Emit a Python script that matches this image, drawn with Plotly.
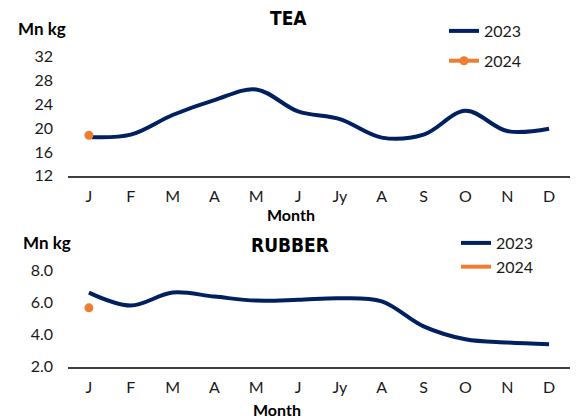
import plotly.graph_objects as go

# Monthly production, million kg
months = ["J", "F", "M", "A", "M", "J", "Jy", "A", "S", "O", "N", "D"]
tea_2023 = [18.5, 18.9, 22.2, 24.7, 26.5, 22.8, 21.5, 18.4, 18.9, 22.9, 19.5, 19.9]
tea_2024 = [18.8]
rubber_2023 = [6.6, 5.8, 6.6, 6.35, 6.1, 6.15, 6.25, 6.05, 4.5, 3.7, 3.5, 3.4]
rubber_2024 = [5.65]

tea_ticks = [12, 16, 20, 24, 28, 32]
rubber_ticks = [2.0, 4.0, 6.0, 8.0]

NAVY = "#002060"
ORANGE = "#ED7D31"
TXT = "#1a1a1a"
FONT = "Lato, DejaVu Sans, sans-serif"
BOLD_NARROW = "Liberation Sans Narrow, Arial Narrow, DejaVu Sans Condensed, sans-serif"

W, H = 577, 418
x = list(range(len(months)))

fig = go.Figure()

fig.add_trace(go.Scatter(
    x=x, y=tea_2023, name="2023", mode="lines",
    line=dict(color=NAVY, width=4, shape="spline", smoothing=1),
    xaxis="x", yaxis="y", legend="legend", legendgroup="t23"))
fig.add_trace(go.Scatter(
    x=x[:len(tea_2024)], y=tea_2024, name="2024", mode="lines+markers",
    line=dict(color=ORANGE, width=4), marker=dict(color=ORANGE, size=9),
    xaxis="x", yaxis="y", legend="legend", legendgroup="t24"))

fig.add_trace(go.Scatter(
    x=x, y=rubber_2023, name="2023", mode="lines",
    line=dict(color=NAVY, width=4, shape="spline", smoothing=1),
    xaxis="x2", yaxis="y2", legend="legend2", legendgroup="r23"))
fig.add_trace(go.Scatter(
    x=x[:len(rubber_2024)], y=rubber_2024, name="2024", mode="lines",
    line=dict(color=ORANGE, width=4),
    xaxis="x2", yaxis="y2", legend="legend2", legendgroup="r24"))
fig.add_trace(go.Scatter(
    x=x[:len(rubber_2024)], y=rubber_2024, name="2024", mode="markers",
    marker=dict(color=ORANGE, size=9), showlegend=False,
    xaxis="x2", yaxis="y2"))


def py(p):
    return 1 - p / H


def px(p):
    return p / W


xdom = [px(68), px(570)]
xcommon = dict(
    range=[-0.5, len(months) - 0.5], tickmode="array", tickvals=x, ticktext=months,
    showgrid=False, zeroline=False, showline=True, linecolor="#404040", linewidth=1.5,
    ticks="", ticklabelstandoff=5, tickfont=dict(family=FONT, size=16, color=TXT),
    automargin=False, fixedrange=True,
)
ycommon = dict(
    showgrid=False, zeroline=False, showline=False, ticks="", ticklabelstandoff=14,
    tickfont=dict(family=FONT, size=16, color=TXT), automargin=False,
)

fig.update_layout(
    width=W, height=H, margin=dict(l=0, r=0, t=0, b=0, pad=0, autoexpand=False),
    paper_bgcolor="white", plot_bgcolor="white",
    xaxis=dict(domain=xdom, anchor="y", **xcommon),
    yaxis=dict(domain=[py(175.7), py(56.7)], range=[12, 32], anchor="x",
               tickvals=tea_ticks, ticktext=[str(v) for v in tea_ticks], **ycommon),
    xaxis2=dict(domain=xdom, anchor="y2", **xcommon),
    yaxis2=dict(domain=[py(366.7), py(270)], range=[2, 8], anchor="x2",
                tickvals=rubber_ticks, ticktext=[f"{v:.1f}" for v in rubber_ticks], **ycommon),
    legend=dict(x=px(444), y=py(14), xanchor="left", yanchor="top",
                font=dict(family=FONT, size=16, color=TXT), bgcolor="rgba(0,0,0,0)",
                tracegroupgap=6, traceorder="grouped", itemwidth=30),
    legend2=dict(x=px(456), y=py(226), xanchor="left", yanchor="top",
                 font=dict(family=FONT, size=16, color=TXT), bgcolor="rgba(0,0,0,0)",
                 tracegroupgap=0, traceorder="grouped", itemwidth=30),
    showlegend=True,
)

annots = [
    dict(text="<b>TEA</b>", x=px(288), y=py(18), font=dict(family=BOLD_NARROW, size=19, color="#000")),
    dict(text="<b>RUBBER</b>", x=px(290), y=py(245), font=dict(family=BOLD_NARROW, size=19, color="#000")),
    dict(text="<b>Mn kg</b>", x=px(42), y=py(29), font=dict(family=FONT, size=17, color="#000")),
    dict(text="<b>Mn kg</b>", x=px(47), y=py(242), font=dict(family=FONT, size=17, color="#000")),
    dict(text="<b>Month</b>", x=px(291), y=py(214), font=dict(family=FONT, size=16, color="#000")),
    dict(text="<b>Month</b>", x=px(277), y=py(409), font=dict(family=FONT, size=16, color="#000")),
]
for a in annots:
    fig.add_annotation(xref="paper", yref="paper", showarrow=False,
                       xanchor="center", yanchor="middle", **a)

fig.write_html("out.html")
